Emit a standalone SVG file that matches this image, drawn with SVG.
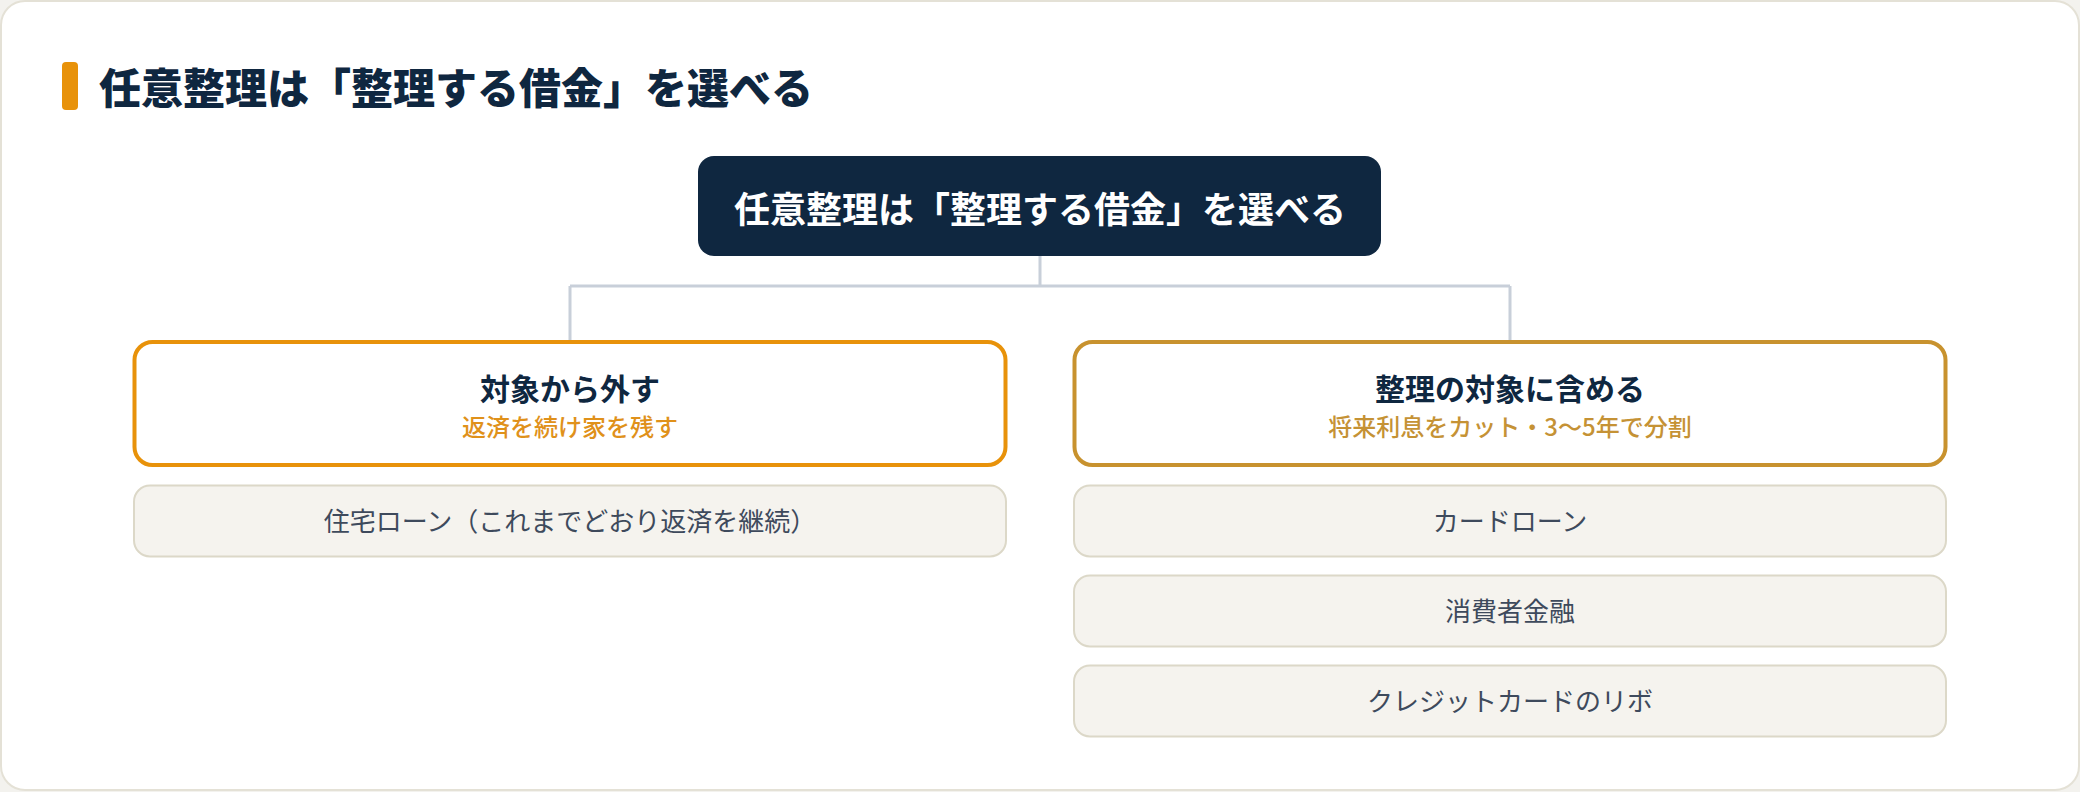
<svg xmlns="http://www.w3.org/2000/svg" width="2080" height="792" viewBox="0 0 2080 792">
<style>
text{font-family:"Noto Sans CJK JP","Noto Sans",sans-serif;text-anchor:middle}
.ttl{font-size:42px;font-weight:900;fill:#0f2740;text-anchor:start}
.root-t{font-size:36px;font-weight:700;fill:#ffffff}
.cat-t{font-size:30px;font-weight:700;fill:#0f2740}
.sub-o{font-size:24px;font-weight:500;fill:#e0911a}
.sub-g{font-size:24px;font-weight:500;fill:#c59235}
.item{fill:#f5f3ee;stroke:#dcd8c8;stroke-width:2}
.item-t{font-size:26px;fill:#3e4a5c}
.conn{fill:none;stroke:#c8cfd9;stroke-width:3}
</style>
<rect x="0" y="0" width="2080" height="792" fill="#f3f2ee"/>
<rect x="1" y="1" width="2078" height="789" rx="24" fill="#ffffff" stroke="#e4e1d6" stroke-width="2"/>
<g id="title">
<rect x="62" y="62" width="16" height="48" rx="4" fill="#e8920a"/>
<text class="ttl" x="99" y="104">任意整理は「整理する借金」を選べる</text>
</g>
<g id="connectors">
<path class="conn" d="M1040 256 V286 M570 286 H1510 M570 286 V341 M1510 286 V341"/>
</g>
<g id="root">
<rect x="698" y="156" width="683" height="100" rx="16" fill="#0f2740"/>
<text class="root-t" x="1040" y="223">任意整理は「整理する借金」を選べる</text>
</g>
<g id="cat-exclude">
<rect x="134.5" y="342" width="871" height="123" rx="18" fill="#ffffff" stroke="#e8920a" stroke-width="4"/>
<text class="cat-t" x="570" y="400">対象から外す</text>
<text class="sub-o" x="570" y="436">返済を続け家を残す</text>
</g>
<g id="cat-include">
<rect x="1074.5" y="342" width="871" height="123" rx="18" fill="#ffffff" stroke="#c8922e" stroke-width="4"/>
<text class="cat-t" x="1510" y="400">整理の対象に含める</text>
<text class="sub-g" x="1510" y="436">将来利息をカット・3〜5年で分割</text>
</g>
<g id="item-housing">
<rect class="item" x="134" y="485.5" width="872" height="71" rx="16"/>
<text class="item-t" x="570" y="531">住宅ローン（これまでどおり返済を継続）</text>
</g>
<g id="item-cardloan">
<rect class="item" x="1074" y="485.5" width="872" height="71" rx="16"/>
<text class="item-t" x="1510" y="531">カードローン</text>
</g>
<g id="item-consumer">
<rect class="item" x="1074" y="575.5" width="872" height="71" rx="16"/>
<text class="item-t" x="1510" y="621">消費者金融</text>
</g>
<g id="item-revo">
<rect class="item" x="1074" y="665.5" width="872" height="71" rx="16"/>
<text class="item-t" x="1510" y="711">クレジットカードのリボ</text>
</g>
</svg>
